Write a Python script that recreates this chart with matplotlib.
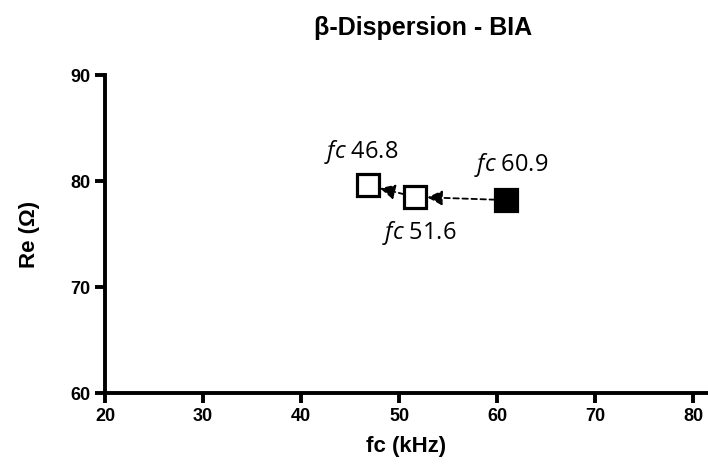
import matplotlib
matplotlib.use("Agg")
import matplotlib.pyplot as plt

# Dispersão beta: fc (kHz) vs Re (Ohm)
fc_khz = [60.9, 51.6, 46.8]
re_ohm = [78.2, 78.5, 79.6]
filled = [True, False, False]
point_labels = ["60.9", "51.6", "46.8"]
label_offsets = [(0.5, 3.3), (0.5, -3.4), (-0.7, 3.1)]

x_ticks = [20, 30, 40, 50, 60, 70, 80]
y_ticks = [60, 70, 80, 90]

plt.rcParams['font.family'] = ['Liberation Sans', 'DejaVu Sans']
plt.rcParams['mathtext.fontset'] = 'custom'
plt.rcParams['mathtext.rm'] = 'Open Sans'
plt.rcParams['mathtext.it'] = 'Open Sans:italic'

fig = plt.figure(figsize=(7.08, 4.69), dpi=100)
ax = fig.add_axes([105 / 708, 1 - 393 / 469, 603 / 708, 318 / 469])

# setas entre os pontos (tracejadas)
for i in range(len(fc_khz) - 1):
    ax.annotate("", xy=(fc_khz[i + 1], re_ohm[i + 1]), xytext=(fc_khz[i], re_ohm[i]),
                arrowprops=dict(arrowstyle="-|>,head_length=0.9,head_width=0.45",
                                color="black", lw=1.3, linestyle=(0, (3, 2)),
                                shrinkA=8, shrinkB=9))

for x, y, f in zip(fc_khz, re_ohm, filled):
    ax.plot(x, y, marker='s', markersize=16, markeredgewidth=2.3,
            markerfacecolor='black' if f else 'white', markeredgecolor='black',
            linestyle='none', zorder=5)

for x, y, lab, (dx, dy) in zip(fc_khz, re_ohm, point_labels, label_offsets):
    ax.text(x + dx, y + dy, r"$\mathit{fc}$ " + lab, fontsize=17,
            family='Open Sans', ha='center', va='center')

ax.set_xlim(20, 81.5)
ax.set_ylim(60, 90)
ax.set_xticks(x_ticks)
ax.set_yticks(y_ticks)
for s in ['top', 'right']:
    ax.spines[s].set_visible(False)
for s in ['left', 'bottom']:
    ax.spines[s].set_linewidth(2.8)
ax.tick_params(width=2.8, length=7, labelsize=13)
for t in ax.get_xticklabels() + ax.get_yticklabels():
    t.set_fontweight('bold')

ax.set_xlabel("fc (kHz)", fontsize=16, fontweight='bold', labelpad=8)
ax.set_ylabel("Re (Ω)", fontsize=16, fontweight='bold', labelpad=22)
fig.text(423 / 708, 1 - 28 / 469, "β-Dispersion - BIA", fontsize=18,
         fontweight='bold', ha='center', va='center')

plt.savefig("out.png", dpi=100)
